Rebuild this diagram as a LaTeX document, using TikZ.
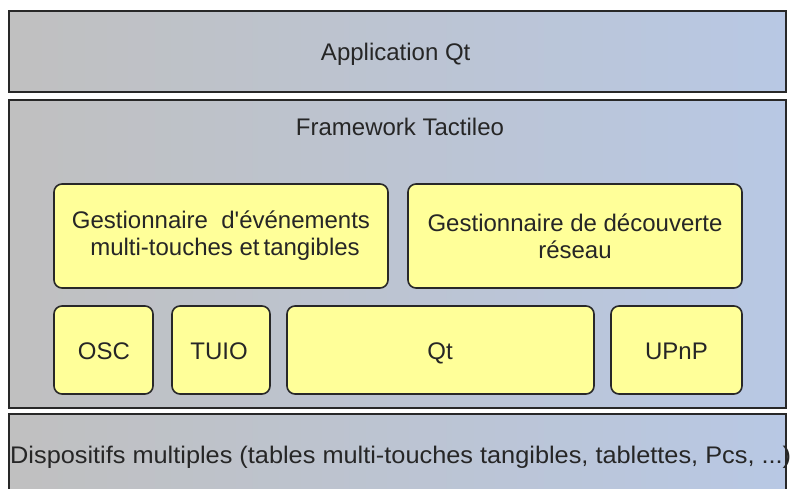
\documentclass[tikz,border=0pt]{standalone}
\usepackage{fontspec}
\setmainfont[Ligatures=TeXOff]{Liberation Sans}
\definecolor{layerL}{RGB}{192,192,192}
\definecolor{layerR}{RGB}{184,200,228}
\definecolor{compY}{RGB}{255,255,153}
\definecolor{edge}{RGB}{40,40,40}
\begin{document}
\begin{tikzpicture}[x=1pt,y=-1pt,
  txt/.style={font=\fontsize{24}{27}\selectfont, text=black!85, inner sep=0pt},
  layer/.style={draw=edge, line width=2pt, left color=layerL, right color=layerR, inner sep=0pt},
  comp/.style={draw=edge, line width=1.6pt, fill=compY, rounded corners=8pt, inner sep=0pt, align=center,
    font=\fontsize{24}{27}\selectfont, text=black!85}
]
\useasboundingbox (0,0) rectangle (795,488);
\fill[white] (0,0) rectangle (795,488);
% layers
\node[layer, minimum width=777pt, minimum height=81pt] (app) at (397.5,51.5) {};
\node[layer, minimum width=777pt, minimum height=308pt] (fw) at (397.5,254) {};
\begin{scope}
\clip (0,0) rectangle (795,488);
\node[layer, minimum width=777pt, minimum height=90pt] (dev) at (397.5,459) {};
\end{scope}
% layer titles
\node[txt, anchor=base] (appt) at (395.7,60) {Application Qt};
\node[txt, anchor=base] (fwt) at (400,135) {Framework Tactileo};
\node[txt, anchor=base west] (devt) at (10,463) {\addfontfeatures{FakeStretch=1.055}Dispositifs multiples (tables multi-touches tangibles, tablettes, Pcs, ...)};
% components
\node[comp, minimum width=334pt, minimum height=104pt] (evt) at (221,236) {Gestionnaire\ \ d'événements\\ \hspace*{8pt}multi-touches et\,tangibles};
\node[comp, minimum width=334pt, minimum height=104pt] (disc) at (575,236) {Gestionnaire de découverte\\réseau};
\node[comp, minimum width=99pt, minimum height=88pt] (osc) at (103.5,350) {};
\node[comp, minimum width=98pt, minimum height=88pt] (tuio) at (221,350) {};
\node[comp, minimum width=307pt, minimum height=88pt] (qt) at (440.5,350) {};
\node[comp, minimum width=131pt, minimum height=88pt] (upnp) at (676.5,350) {};
\node[txt, anchor=base] (osct) at (104,359.3) {OSC};
\node[txt, anchor=base] (tuiot) at (219,359.3) {TUIO};
\node[txt, anchor=base] (qtt) at (440,359.3) {Qt};
\node[txt, anchor=base] (upnpt) at (676.5,359.3) {UPnP};
\end{tikzpicture}
\end{document}
